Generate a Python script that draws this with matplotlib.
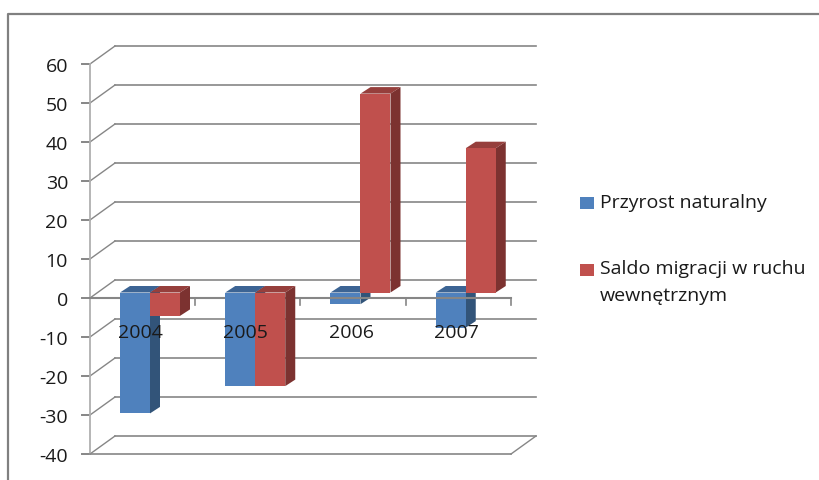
import matplotlib
matplotlib.use('Agg')
import matplotlib.pyplot as plt
import matplotlib.patches as patches
from matplotlib.transforms import Affine2D, IdentityTransform

years = ['2004', '2005', '2006', '2007']
przyrost = [-31, -24, -3, -9]
saldo = [-6, -24, 51, 37]
y_ticks = [60, 50, 40, 30, 20, 10, 0, -10, -20, -30, -40]

W, H = 820, 480
BLUE = ('#4f81bd', '#3c6494', '#325479')
RED = ('#c0504d', '#963f3c', '#7c3230')
GRID = '#868686'
TEXT = '#1a1a1a'

plt.rcParams['font.family'] = ['Open Sans', 'DejaVu Sans']

fig = plt.figure(figsize=(8.2, 4.8), dpi=100)
# przod wykresu: x 90-511, y 64-454 (piksele obrazka)
ax = fig.add_axes([90 / W, 1 - 454 / H, 421 / W, 390 / H])
ax.set_xlim(0, 4)
ax.set_ylim(-40, 60)
ax.axis('off')
PX = IdentityTransform()


def shifted(dx, dy):
    return ax.transData + Affine2D().translate(dx, dy)


back = shifted(25, 18)

# siatka na tylnej scianie i skosy z lewej
for v in y_ticks:
    ax.plot([0, 4], [v, v], transform=back, color=GRID, lw=1.2, clip_on=False, zorder=1)
    x0, y0 = ax.transData.transform((0, v))
    ax.plot([x0, x0 + 25], [y0, y0 + 18], transform=PX, color=GRID, lw=1, zorder=1, clip_on=False)
    ax.plot([x0 - 8, x0], [y0, y0], transform=PX, color=GRID, lw=1.4, zorder=2, clip_on=False)
    ax.text(0, v, str(v), transform=shifted(-22, -3), ha='right', va='center',
            fontsize=14, color=TEXT, clip_on=False)

# os pionowa, podloga
ax.plot([0, 0], [-40, 60], color='#b0b0b0', lw=1.3, zorder=2, clip_on=False)
ax.plot([0, 4], [-40, -40], color=GRID, lw=1.2, zorder=2, clip_on=False)
xr, yr = ax.transData.transform((4, -40))
ax.plot([xr, xr + 25], [yr, yr + 18], transform=PX, color=GRID, lw=1, zorder=2, clip_on=False)

# os zero z kreskami
ax.plot([0, 4], [0, 0], color=GRID, lw=1.5, zorder=4, clip_on=False)
for i in range(1, 5):
    x0, y0 = ax.transData.transform((i, 0))
    ax.plot([x0, x0], [y0, y0 - 7], transform=PX, color=GRID, lw=1.2, zorder=4, clip_on=False)


def bar3d(x, value, width, colors, z):
    # przednia sciana przez ax.bar, bok i wierzch jako przesuniete wielokaty
    front = shifted(8, 5.5)
    ax.bar(x, value, width, align='edge', color=colors[0], transform=front,
           zorder=z + 0.2, clip_on=False, edgecolor='none')
    xa, ya = front.transform((x, 0))
    xb, yb = front.transform((x + width, value))
    top, bottom = max(ya, yb), min(ya, yb)
    dx, dy = 10, 6.5
    top_face = [(xa, top), (xb, top), (xb + dx, top + dy), (xa + dx, top + dy)]
    side_face = [(xb, top), (xb + dx, top + dy), (xb + dx, bottom + dy), (xb, bottom)]
    ax.add_patch(patches.Polygon(top_face, color=colors[1], transform=PX, zorder=z, lw=0, clip_on=False))
    ax.add_patch(patches.Polygon(side_face, color=colors[2], transform=PX, zorder=z, lw=0, clip_on=False))


bar_w = 30 / 105.25
for i in range(len(years)):
    left = i + 22 / 105.25
    z_b = 5 if i < 2 else 3
    bar3d(left, przyrost[i], bar_w, BLUE, z_b)
    bar3d(left + bar_w, saldo[i], bar_w, RED, 5.5)
    ax.text(i + 0.5, -9, years[i], transform=shifted(-2, 0), ha='center', va='center',
            fontsize=14, color=TEXT, zorder=8)

# legenda
leg = fig.add_axes([0, 0, 1, 1], facecolor='none')
leg.set_xlim(0, W)
leg.set_ylim(H, 0)
leg.axis('off')
leg.add_patch(patches.Rectangle((580, 197), 14, 12, color=BLUE[0], lw=0))
leg.add_patch(patches.Rectangle((580, 264), 14, 12, color=RED[0], lw=0))
leg.text(600, 203, 'Przyrost naturalny', fontsize=14, va='center', color=TEXT)
leg.text(600, 269, 'Saldo migracji w ruchu', fontsize=14, va='center', color=TEXT)
leg.text(600, 296, 'wewnętrznym', fontsize=14, va='center', color=TEXT)

# ramka
leg.plot([8.5, 8.5, W], [H, 13.5, 13.5], color='#808080', lw=1.6)

fig.savefig('out.png', dpi=100)
